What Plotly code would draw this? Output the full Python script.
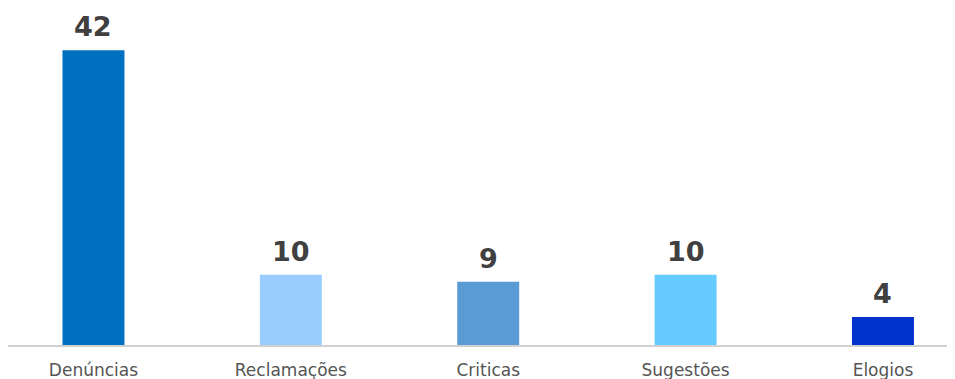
import plotly.graph_objects as go

categories = ["Denúncias", "Reclamações", "Criticas", "Sugestões", "Elogios"]
values = [42, 10, 9, 10, 4]
colors = ["#0070C0", "#99CCFF", "#5B9BD5", "#66CCFF", "#0033CC"]

fig = go.Figure()
fig.add_trace(go.Bar(
    x=list(range(len(categories))),
    y=values,
    marker=dict(color=colors, line=dict(width=0)),
    width=0.314,
    hoverinfo="skip",
))

for i, v in enumerate(values):
    fig.add_annotation(
        x=i, y=v, text=f"<b>{v}</b>", showarrow=False,
        yanchor="bottom", yshift=6,
        font=dict(family="DejaVu Sans", size=27, color="#404040"),
    )

# page body has an 8px default margin, so the figure is sized to fit
fig.update_layout(
    width=947, height=371,
    margin=dict(l=0, r=0, t=0, b=34),
    paper_bgcolor="white", plot_bgcolor="white",
    showlegend=False,
    xaxis=dict(
        range=[-0.433, 4.365],
        tickmode="array",
        tickvals=list(range(len(categories))),
        ticktext=categories,
        showgrid=False, zeroline=False,
        showline=True, linecolor="#D0D0D0", linewidth=2,
        ticks="", tickfont=dict(family="DejaVu Sans", size=17, color="#555555"),
        ticklabelstandoff=9,
    ),
    yaxis=dict(
        range=[0, 48.0], visible=False, showgrid=False, zeroline=False,
    ),
)

fig.write_html("out.html")
